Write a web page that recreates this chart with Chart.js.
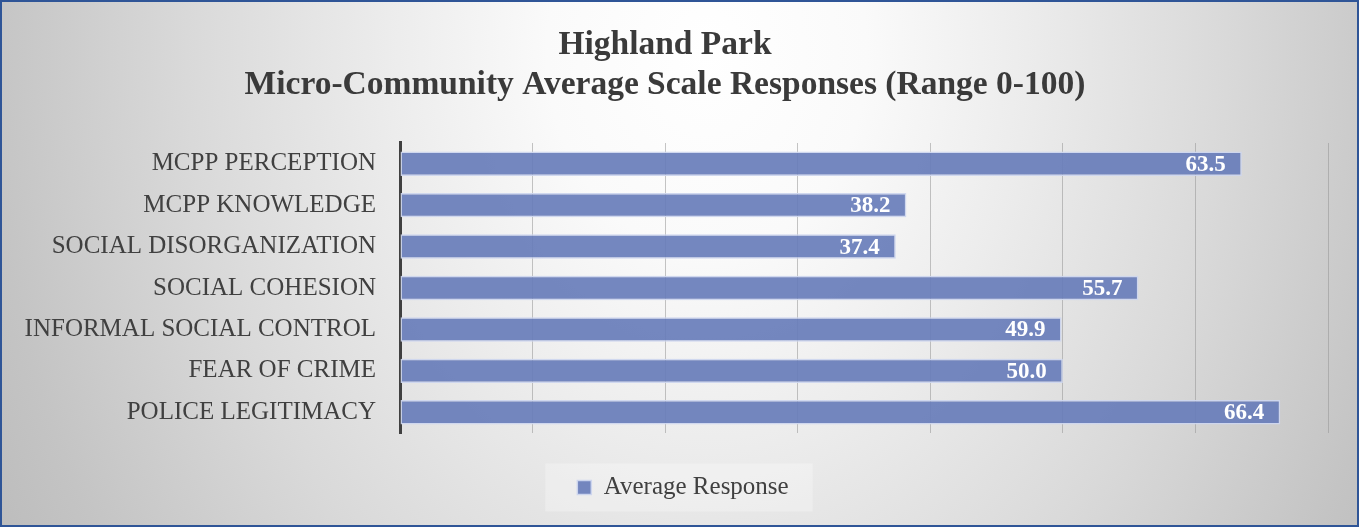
<!DOCTYPE html>
<html>
<head>
<meta charset="utf-8">
<script src="https://cdn.jsdelivr.net/npm/chart.js@4"></script>
<style>
  html, body { margin:0; padding:0; }
  #wrap {
    width:1359px; height:527px; box-sizing:border-box;
    border:2px solid #2F5597;
    background: radial-gradient(800px 1000px at 705px 50px,
      #ffffff 0%, #fafafa 20%, #ececec 40%, #d9d9d9 65%, #c4c4c4 90%, #bdbdbd 100%);
  }
  #chart { display:block; }
</style>
</head>
<body>
<div id="wrap"><canvas id="chart" width="1355" height="523"></canvas></div>
<script>
const titleLines = ['Highland Park', 'Micro-Community Average Scale Responses (Range 0-100)'];
const categories = [
  'MCPP PERCEPTION', 'MCPP KNOWLEDGE', 'SOCIAL DISORGANIZATION', 'SOCIAL COHESION',
  'INFORMAL SOCIAL CONTROL', 'FEAR OF CRIME', 'POLICE LEGITIMACY',
];
const avgResponse = [63.5, 38.2, 37.4, 55.7, 49.9, 50.0, 66.4];
const seriesName  = 'Average Response';

const SERIF   = '"Liberation Serif", "DejaVu Serif", serif';
const barCol  = 'rgba(104,125,186,0.92)';
const textCol = '#404040';

/* value labels at the inner end of each bar */
const valueLabels = {
  id: 'valueLabels',
  afterDatasetsDraw(chart) {
    const ctx = chart.ctx;
    const meta = chart.getDatasetMeta(0);
    ctx.save();
    ctx.font = `bold 23px ${SERIF}`;
    ctx.fillStyle = '#ffffff';
    ctx.textAlign = 'right';
    ctx.textBaseline = 'middle';
    meta.data.forEach((bar, i) => {
      ctx.fillText(avgResponse[i].toFixed(1), bar.x - 16, bar.y + 1);
    });
    ctx.restore();
  }
};

/* nudge the legend right, then paint a light panel behind it */
const legendPanel = {
  id: 'legendPanel',
  afterLayout(chart) {
    chart.legend.left  += 18;
    chart.legend.right += 18;
  },
  beforeDraw(chart) {
    const hb = chart.legend && chart.legend.legendHitBoxes && chart.legend.legendHitBoxes[0];
    if (!hb) return;
    const ctx = chart.ctx;
    const cy  = hb.top + hb.height / 2;
    ctx.save();
    ctx.fillStyle = 'rgba(255,255,255,0.28)';
    ctx.fillRect(hb.left - 32, cy - 24, hb.width + 56, 48);
    ctx.restore();
  }
};

new Chart(document.getElementById('chart'), {
  type: 'bar',
  data: {
    labels: categories,
    datasets: [{
      label: seriesName,
      data: avgResponse,
      backgroundColor: barCol,
      borderColor: 'rgba(205,214,238,0.95)',
      borderWidth: 1.5,
      borderSkipped: false,
      categoryPercentage: 1,
      barPercentage: 0.59,
    }],
  },
  options: {
    indexAxis: 'y',
    responsive: false,
    animation: false,
    layout: { padding: { left: 0, right: 29, top: 0, bottom: 15 } },
    plugins: {
      title: {
        display: true, text: titleLines, color: '#3a3a3a',
        font: { family: SERIF, size: 33.5, weight: 'bold', lineHeight: 1.194 },
        padding: { top: 23.5, bottom: 37.5 },
      },
      legend: {
        position: 'bottom',
        labels: {
          color: textCol, font: { family: SERIF, size: 25 },
          boxWidth: 14, boxHeight: 14, padding: 12,
        },
      },
      tooltip: { enabled: false },
    },
    scales: {
      x: {
        min: 0, max: 70,
        ticks: { display: false, stepSize: 10 },
        grid: { color: 'rgba(150,150,150,0.55)', lineWidth: 1, drawTicks: false },
        border: { display: false },
        afterFit: s => { s.height = 30; },
      },
      y: {
        ticks: { color: textCol, font: { family: SERIF, size: 25 }, padding: 24 },
        grid: { display: false, drawTicks: false },
        border: { color: '#404040', width: 3 },
        afterFit: s => { s.width = 398; },
      },
    },
  },
  plugins: [legendPanel, valueLabels],
});
</script>
</body>
</html>
